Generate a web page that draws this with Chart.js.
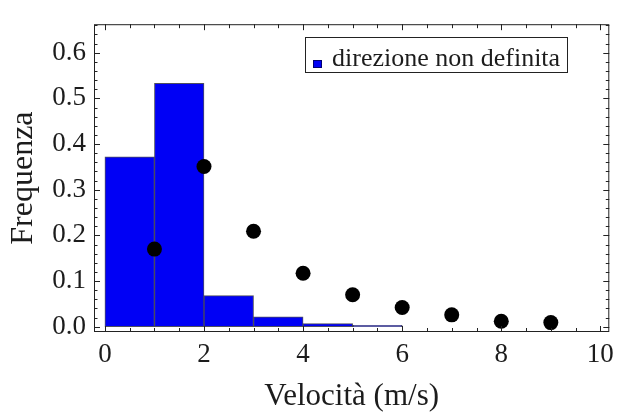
<!DOCTYPE html>
<html>
<head>
<meta charset="utf-8">
<script src="https://cdn.jsdelivr.net/npm/chart.js@4/dist/chart.umd.min.js"></script>
<style>
  html, body { margin: 0; padding: 0; background: #ffffff; }
  canvas { display: block; }
</style>
</head>
<body>
<canvas id="c" width="621" height="412"></canvas>
<script>
// ---- data ----
const binStarts = [0, 1, 2, 3, 4, 5];
const binEnds   = [1, 2, 3, 4, 5, 6];
const binFreq   = [0.372, 0.533, 0.068, 0.0215, 0.0067, 0.003];
const pointX    = [1, 2, 3, 4, 5, 6, 7, 8, 9];
const pointY    = [0.170, 0.351, 0.209, 0.117, 0.070, 0.042, 0.026, 0.012, 0.009];
const xTickLabels = [0, 2, 4, 6, 8, 10];
const yTickLabels = [0.0, 0.1, 0.2, 0.3, 0.4, 0.5, 0.6];
const legendLabel = 'direzione non definita';
const xTitle = 'Velocità (m/s)';
const yTitle = 'Frequenza';

const FONT = "'Liberation Serif', 'Times New Roman', serif";
const TEXT = '#1c1c1c';
const BLUE = '#0000f5';

const barData = binStarts.map((s, i) => ({ x: (s + binEnds[i]) / 2, y: binFreq[i] }));
const ptData = pointX.map((x, i) => ({ x: x, y: pointY[i] }));

// frame with inward ticks (Mathematica style)
const framePlugin = {
  id: 'frame',
  afterDatasetsDraw(chart) {
    const { ctx, chartArea: a, scales: { x, y } } = chart;
    ctx.save();
    ctx.strokeStyle = '#222';
    ctx.lineWidth = 1;
    ctx.strokeRect(a.left + 0.5, a.top + 0.5, a.right - a.left - 1, a.bottom - a.top - 1);
    ctx.beginPath();
    // x ticks every 0.5, major every 2
    for (let k = 0; k <= 20; k++) {
      const v = k * 0.5;
      const px = Math.round(x.getPixelForValue(v)) + 0.5;
      const len = (k % 4 === 0) ? 6 : 4;
      ctx.moveTo(px, a.bottom); ctx.lineTo(px, a.bottom - len);
      ctx.moveTo(px, a.top); ctx.lineTo(px, a.top + len);
    }
    // y ticks every 0.02, major every 0.1
    for (let k = 0; k <= 33; k++) {
      const v = k * 0.02;
      const py = Math.round(y.getPixelForValue(v)) + 0.5;
      const len = (k % 5 === 0) ? 6 : 3.5;
      ctx.moveTo(a.left, py); ctx.lineTo(a.left + len, py);
      ctx.moveTo(a.right, py); ctx.lineTo(a.right - len, py);
    }
    ctx.stroke();
    ctx.restore();
  }
};

// legend box inside plot
const legendPlugin = {
  id: 'boxLegend',
  afterDraw(chart) {
    const { ctx } = chart;
    ctx.save();
    const bx = 305, by = 37, bw = 262, bh = 35;
    ctx.fillStyle = '#ffffff';
    ctx.fillRect(bx, by, bw, bh);
    ctx.strokeStyle = '#222';
    ctx.lineWidth = 1;
    ctx.strokeRect(bx + 0.5, by + 0.5, bw, bh);
    ctx.fillStyle = BLUE;
    ctx.fillRect(313, 60, 9, 8);
    ctx.strokeStyle = 'rgba(0,0,60,0.7)';
    ctx.strokeRect(313.5, 60.5, 8, 7);
    ctx.fillStyle = TEXT;
    ctx.font = "26px " + FONT;
    ctx.textBaseline = 'alphabetic';
    ctx.textAlign = 'left';
    ctx.fillText(legendLabel, 332, 66);
    ctx.restore();
  }
};

new Chart(document.getElementById('c'), {
  type: 'bar',
  data: {
    datasets: [
      {
        type: 'scatter',
        label: 'punti',
        data: ptData,
        backgroundColor: '#000000',
        borderWidth: 0,
        pointRadius: 7.5,
        pointHoverRadius: 7.5,
        order: 0
      },
      {
        type: 'bar',
        label: legendLabel,
        data: barData,
        backgroundColor: BLUE,
        borderColor: 'rgba(20,20,40,0.75)',
        borderWidth: 1,
        borderSkipped: false,
        barPercentage: 1,
        categoryPercentage: 1,
        order: 1
      }
    ]
  },
  options: {
    responsive: false,
    devicePixelRatio: 1,
    animation: false,
    layout: { padding: { top: 12, right: 7, left: 0, bottom: 0 } },
    plugins: { legend: { display: false }, tooltip: { enabled: false } },
    scales: {
      x: {
        type: 'linear',
        min: -0.22,
        max: 10.18,
        offset: false,
        afterBuildTicks: s => { s.ticks = xTickLabels.map(v => ({ value: v })); },
        afterFit: s => { s.height = 80; },
        grid: { display: false, drawTicks: false },
        border: { display: false },
        ticks: {
          autoSkip: false, maxRotation: 0, padding: 7, color: TEXT,
          font: { family: FONT, size: 27 },
          callback: v => String(v)
        },
        title: {
          display: true, text: xTitle, color: TEXT,
          font: { family: FONT, size: 31, lineHeight: 1 },
          padding: { top: 0, bottom: 0 }
        }
      },
      y: {
        type: 'linear',
        min: -0.0116,
        max: 0.6625,
        afterBuildTicks: s => { s.ticks = yTickLabels.map(v => ({ value: v })); },
        afterFit: s => { s.width = 94; },
        grid: { display: false, drawTicks: false },
        border: { display: false },
        ticks: {
          autoSkip: false, padding: 8, color: TEXT,
          font: { family: FONT, size: 27 },
          callback: v => Number(v).toFixed(1)
        },
        title: {
          display: true, text: yTitle, color: TEXT,
          font: { family: FONT, size: 32, lineHeight: 1.2 },
          padding: { top: 4, bottom: 0 }
        }
      }
    }
  },
  plugins: [framePlugin, legendPlugin]
});
</script>
</body>
</html>
